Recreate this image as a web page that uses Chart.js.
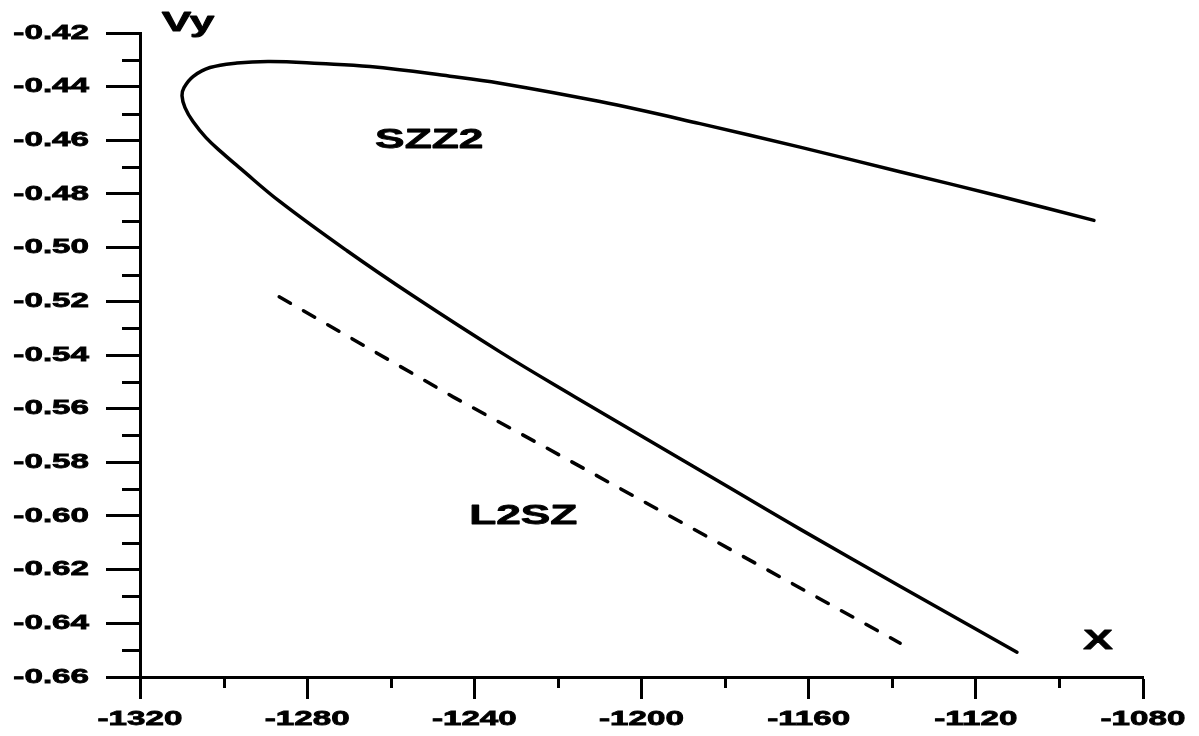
<!DOCTYPE html>
<html><head><meta charset="utf-8">
<script src="https://cdn.jsdelivr.net/npm/chart.js@4/dist/chart.umd.min.js"></script>
<style>html,body{margin:0;padding:0;background:#fff}canvas{display:block}</style>
</head><body>
<canvas id="c" width="1199" height="736"></canvas>
<script>
// ---- data ----
const xTicks = [-1320, -1280, -1240, -1200, -1160, -1120, -1080];
const xMinorTicks = [-1300, -1260, -1220, -1180, -1140, -1100];
const yTicks = [-0.66, -0.64, -0.62, -0.60, -0.58, -0.56, -0.54, -0.52, -0.50, -0.48, -0.46, -0.44, -0.42];
const yMinorTicks = [-0.65, -0.63, -0.61, -0.59, -0.57, -0.55, -0.53, -0.51, -0.49, -0.47, -0.45, -0.43];

const szz2X = [-1091.73, -1114.22, -1138.15, -1162.07, -1186.0, -1209.93, -1233.86, -1245.82, -1264.97, -1276.93, -1288.89, -1296.79, -1303.25, -1307.32, -1309.47, -1309.95, -1309.23, -1307.32, -1304.21, -1300.38, -1296.07, -1286.5, -1270.47, -1254.68, -1233.86, -1215.91, -1197.97, -1180.02, -1162.07, -1138.15, -1110.15];
const szz2Y = [-0.48985, -0.48082, -0.47168, -0.46254, -0.45377, -0.44556, -0.43869, -0.43608, -0.4325, -0.43138, -0.43063, -0.43119, -0.43287, -0.43623, -0.44034, -0.44332, -0.4478, -0.45302, -0.45899, -0.46459, -0.47037, -0.48287, -0.50116, -0.51795, -0.53884, -0.55563, -0.57205, -0.58847, -0.60489, -0.62616, -0.65078];

const l2szX = [-1286.7, -1245.1, -1223.1, -1138.1];
const l2szY = [-0.5183, -0.5556, -0.5743, -0.6474];

const xAxisTitle = 'X';
const yAxisTitle = 'Vy';
const seriesNames = ['SZZ2', 'L2SZ'];

// ---- text stretch (reference text is horizontally widened) ----
const SX = 1.58;
const canvas = document.getElementById('c');
const ctx = canvas.getContext('2d');
const origFill = ctx.fillText.bind(ctx);
const origStroke = ctx.strokeText.bind(ctx);
function stretched(fn) {
  return function (t, x, y, mw) {
    ctx.save();
    ctx.translate(x, y);
    ctx.scale(SX, 1);
    if (mw === undefined) fn(t, 0, 0); else fn(t, 0, 0, mw / SX);
    ctx.restore();
  };
}
ctx.fillText = stretched(origFill);
ctx.strokeText = stretched(origStroke);

const tickFont = { family: 'Liberation Sans', size: 21, weight: 'bold' };

const decor = {
  id: 'decor',
  afterDraw(chart) {
    const c = chart.ctx, xs = chart.scales.x, ys = chart.scales.y, a = chart.chartArea;
    c.save();
    c.strokeStyle = '#000';
    c.lineWidth = 3;
    c.lineCap = 'butt';
    c.beginPath();
    xMinorTicks.forEach(v => {
      const px = Math.round(xs.getPixelForValue(v)) + 0.5;
      c.moveTo(px, a.bottom); c.lineTo(px, a.bottom + 11);
    });
    yMinorTicks.forEach(v => {
      const py = Math.round(ys.getPixelForValue(v)) + 0.5;
      c.moveTo(a.left - 18, py); c.lineTo(a.left, py);
    });
    c.stroke();
    c.fillStyle = '#000';
    c.lineWidth = 0.8;
    c.lineJoin = 'round';
    c.font = 'bold 28px "Liberation Sans"';
    c.textAlign = 'center';
    c.textBaseline = 'alphabetic';
    const put = (t, x, y) => { c.fillText(t, x, y); c.strokeText(t, x, y); };
    put(yAxisTitle, a.left + 48, a.top - 2);
    put(xAxisTitle, a.right - 45, a.bottom - 28);
    put(seriesNames[0], xs.getPixelForValue(-1250.8), ys.getPixelForValue(-0.4627));
    put(seriesNames[1], xs.getPixelForValue(-1228.3), ys.getPixelForValue(-0.6029));
    c.restore();
  }
};

new Chart(ctx, {
  type: 'scatter',
  data: {
    datasets: [
      {
        label: seriesNames[0],
        data: szz2X.map((x, i) => ({ x, y: szz2Y[i] })),
        showLine: true, borderColor: '#000', borderWidth: 3.5, pointRadius: 0,
        tension: 0.4, borderCapStyle: 'round', borderJoinStyle: 'round', fill: false
      },
      {
        label: seriesNames[1],
        data: l2szX.map((x, i) => ({ x, y: l2szY[i] })),
        showLine: true, borderColor: '#000', borderWidth: 3.5, pointRadius: 0,
        tension: 0, borderDash: [13, 15], borderCapStyle: 'round', fill: false
      }
    ]
  },
  options: {
    responsive: false, animation: false, devicePixelRatio: 1,
    layout: { padding: { top: 33, right: 56, bottom: 0, left: 0 } },
    plugins: { legend: { display: false }, tooltip: { enabled: false } },
    scales: {
      x: {
        type: 'linear', min: -1320, max: -1080, position: 'bottom',
        afterBuildTicks: s => { s.ticks = xTicks.map(v => ({ value: v })); },
        afterFit: s => { s.height = 59; },
        grid: { display: true, drawOnChartArea: false, drawTicks: true, tickLength: 22, tickWidth: 3, tickColor: '#000' },
        border: { display: true, color: '#000', width: 3 },
        ticks: { color: '#000', font: tickFont, padding: 8, maxRotation: 0, autoSkip: false, textStrokeColor: '#000', textStrokeWidth: 0.8, callback: v => String(v) }
      },
      y: {
        type: 'linear', min: -0.66, max: -0.42, position: 'left',
        afterBuildTicks: s => { s.ticks = yTicks.map(v => ({ value: v })); },
        afterFit: s => { s.width = 140; },
        grid: { display: true, drawOnChartArea: false, drawTicks: true, tickLength: 34, tickWidth: 3, tickColor: '#000' },
        border: { display: true, color: '#000', width: 3 },
        ticks: { color: '#000', font: tickFont, padding: 17, autoSkip: false, textStrokeColor: '#000', textStrokeWidth: 0.8, callback: v => v.toFixed(2) }
      }
    }
  },
  plugins: [decor]
});
</script>
</body></html>
